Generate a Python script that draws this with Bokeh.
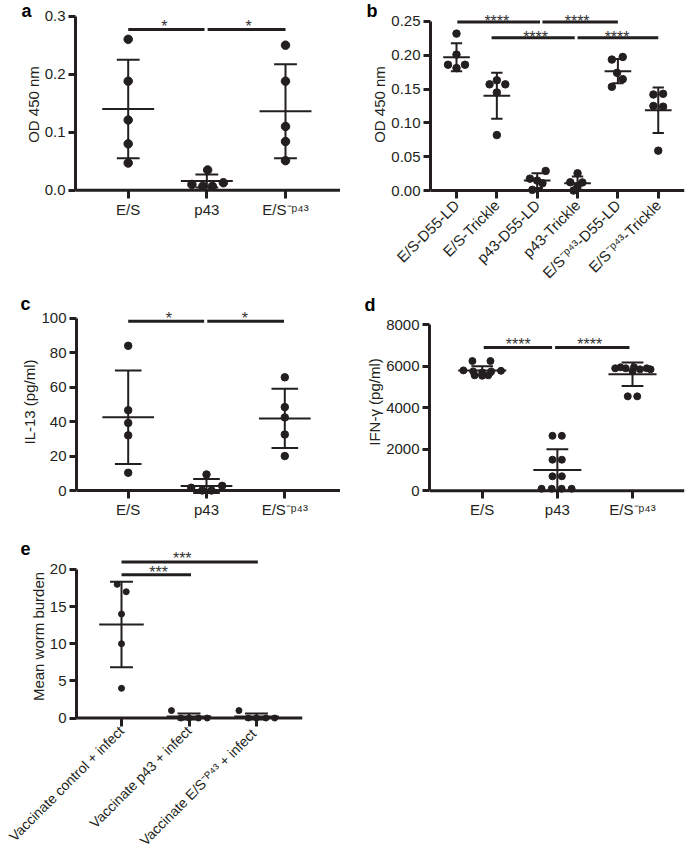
import math
from bokeh.plotting import figure
from bokeh.models import Span, FixedTicker, Range1d, PrintfTickFormatter
from bokeh.layouts import column, row
from bokeh.embed import file_html
from bokeh.resources import INLINE
from bokeh.core.properties import value

INK = "#231f20"
STAR = "#333333"
FONT = "Liberation Sans"

# ---------------- data ----------------
# Panel a  (OD 450 nm)
a_groups = ["E/S", "p43", "E/S⁻ᵖ⁴³"]
a_es = [0.260, 0.188, 0.121, 0.080, 0.047]
a_p43 = [0.035, 0.010, 0.007, 0.007, 0.013]
a_esp = [0.250, 0.188, 0.110, 0.084, 0.051]
a_jit_es = [0, 0, 0, 0, 0]
a_jit_p43 = [0.01, -0.19, -0.05, 0.07, 0.21]
a_jit_esp = [0, 0, 0, 0, 0]
a_mean = [0.140, 0.016, 0.136]
a_sd = [0.085, 0.011, 0.081]
a_yticks = [0.0, 0.1, 0.2, 0.3]
a_sig_from = [0.0, 1.01]
a_sig_to = [0.97, 2.0]
a_sig_y = [0.277, 0.277]
a_stars = ["*", "*"]
a_star_x = [0.46, 1.53]
a_star_y = [0.291, 0.291]

# Panel b  (OD 450 nm)
b_groups = ["E/S-D55-LD", "E/S-Trickle", "p43-D55-LD", "p43-Trickle",
            "E/S⁻ᵖ⁴³-D55-LD", "E/S⁻ᵖ⁴³-Trickle"]
b_es_ld = [0.232, 0.201, 0.186, 0.186, 0.181]
b_es_tr = [0.163, 0.157, 0.157, 0.145, 0.082]
b_p43_ld = [0.029, 0.0176, 0.0147, 0.0108, 0.001]
b_p43_tr = [0.0255, 0.0122, 0.012, 0.0064, 0.0]
b_esp_ld = [0.1975, 0.1936, 0.174, 0.1647, 0.1534]
b_esp_tr = [0.143, 0.142, 0.125, 0.124, 0.059]
b_jit_es_ld = [0, 0, -0.21, 0.21, 0]
b_jit_es_tr = [0, -0.18, 0.21, 0, 0]
b_jit_p43_ld = [0.21, -0.18, 0.0, 0.13, -0.12]
b_jit_p43_tr = [0, -0.18, 0.12, 0, -0.1]
b_jit_esp_ld = [0.12, -0.15, -0.02, 0.12, -0.15]
b_jit_esp_tr = [0.12, -0.12, -0.12, 0.12, 0]
b_mean = [0.197, 0.140, 0.0147, 0.0108, 0.1765, 0.1187]
b_sd = [0.0206, 0.034, 0.0108, 0.0098, 0.018, 0.0338]
b_yticks = [0.0, 0.05, 0.10, 0.15, 0.20, 0.25]
b_sig_from = [0.02, 2.13, 0.87, 3.0]
b_sig_to = [2.07, 4.0, 2.93, 5.0]
b_sig_y = [0.249, 0.249, 0.226, 0.226]
b_stars = ["****", "****", "****", "****"]
b_star_x = [1.0, 2.99, 1.96, 3.98]
b_star_y = [0.258, 0.258, 0.234, 0.234]

# Panel c  (IL-13 pg/ml)
c_groups = ["E/S", "p43", "E/S⁻ᵖ⁴³"]
c_es = [84.0, 46.6, 39.2, 32.0, 10.3]
c_p43 = [9.3, 1.6, 2.7, 0.0, 0.0]
c_esp = [65.7, 48.4, 42.4, 32.5, 20.0]
c_jit_es = [0, 0, 0, 0, 0]
c_jit_p43 = [0, -0.195, 0.2, -0.055, 0.064]
c_jit_esp = [0, 0, 0, 0, 0]
c_mean = [42.5, 2.6, 41.8]
c_sd = [27.1, 4.1, 17.2]
c_yticks = [0, 20, 40, 60, 80, 100]
c_sig_from = [0.0, 1.01]
c_sig_to = [0.97, 1.99]
c_sig_y = [98.2, 98.2]
c_stars = ["*", "*"]
c_star_x = [0.52, 1.49]
c_star_y = [102.5, 102.5]

# Panel d  (IFN-gamma pg/ml)
d_groups = ["E/S", "p43", "E/S⁻ᵖ⁴³"]
d_es = [6250, 6250, 5800, 5780, 5750, 5750, 5700, 5560, 5540, 5560]
d_p43 = [2650, 2650, 1500, 1500, 700, 700, 100, 100, 100, 100]
d_esp = [5900, 5950, 5900, 5950, 5850, 5900, 5850, 5750, 4550, 4550]
d_jit_es = [-0.13, 0.11, -0.25, 0.25, -0.12, 0.12, 0.0, -0.1, 0.0, 0.08]
d_jit_p43 = [-0.065, 0.06, -0.065, 0.06, -0.065, 0.06, -0.21, -0.075, 0.057, 0.19]
d_jit_esp = [-0.23, -0.16, -0.09, 0.02, 0.1, 0.19, 0.24, 0.0, -0.063, 0.063]
d_mean = [5800, 1000, 5615]
d_sd = [205, 1000, 570]
d_yticks = [0, 2000, 4000, 6000, 8000]
d_sig_from = [0.02, 0.97]
d_sig_to = [0.93, 1.96]
d_sig_y = [6900, 6900]
d_stars = ["****", "****"]
d_star_x = [0.48, 1.43]
d_star_y = [7296, 7296]

# Panel e  (Mean worm burden)
e_groups = ["Vaccinate control + infect", "Vaccinate p43 + infect",
            "Vaccinate E/S⁻ᴾ⁴³ +  infect"]
e_ctrl = [18, 17, 14, 10, 4]
e_p43 = [1, 0, 0, 0, 0]
e_esp = [1, 0, 0, 0, 0]
e_jit_ctrl = [-0.064, 0.07, 0, 0, 0]
e_jit_p43 = [-0.26, -0.12, 0, 0.14, 0.27]
e_jit_esp = [-0.26, -0.12, 0, 0.14, 0.27]
e_mean = [12.6, 0.2, 0.2]
e_sd = [5.75, 0.4, 0.4]
e_yticks = [0, 5, 10, 15, 20]
e_sig_from = [0.0, 0.0]
e_sig_to = [1.03, 2.02]
e_sig_y = [19.3, 21.0]
e_stars = ["***", "***"]
e_star_x = [0.55, 0.9]
e_star_y = [20.2, 22.1]


# ---------------- helpers ----------------
def build(ox, oy, W, H, fl, fr, ft, fb, y0, k, c0, dx, yticks, yfmt, ylabel,
          groups, letter, letter_left, letter_standoff,
          rotated=False, tick_in=8, tick_out=0, xlabel_size="15px", xlabel_standoff=2):
    xr = Range1d((fl - c0) / dx, (fr - c0) / dx)
    yr = Range1d((y0 - fb) / k, (y0 - ft) / k)
    p = figure(width=W, height=H, x_range=xr, y_range=yr,
               output_backend="svg", toolbar_location=None,
               min_border_left=fl - ox, min_border_right=ox + W - fr,
               min_border_top=ft - oy, min_border_bottom=oy + H - fb)
    p.outline_line_color = None
    p.grid.visible = False
    p.background_fill_color = "white"
    p.border_fill_color = "white"
    p._mapping = (c0, dx, y0, k)

    # panel letter as the (left aligned) figure title
    p.title.text = letter
    p.title.align = "left"
    p.title.offset = letter_left - fl
    p.title.standoff = letter_standoff
    p.title.vertical_align = "bottom"
    p.title.text_font = FONT
    p.title.text_font_size = "18px"
    p.title.text_font_style = "bold"
    p.title.text_color = "black"

    ya = p.yaxis[0]
    ya.ticker = FixedTicker(ticks=yticks)
    ya.formatter = PrintfTickFormatter(format=yfmt)
    ya.bounds = (0, yticks[-1])
    ya.axis_line_width = 3
    ya.axis_line_color = INK
    ya.major_tick_line_width = 3
    ya.major_tick_line_color = INK
    ya.major_tick_out = 7
    ya.major_tick_in = 0
    ya.minor_tick_line_color = None
    ya.major_label_standoff = 3
    ya.major_label_text_font = FONT
    ya.major_label_text_font_size = "15px"
    ya.major_label_text_color = INK
    ya.axis_label = ylabel
    ya.axis_label_text_font = FONT
    ya.axis_label_text_font_size = "15px"
    ya.axis_label_text_font_style = "normal"
    ya.axis_label_text_color = INK
    ya.axis_label_standoff = 0

    xa = p.xaxis[0]
    xa.ticker = FixedTicker(ticks=list(range(len(groups))))
    xa.major_label_overrides = {i: g for i, g in enumerate(groups)}
    xa.axis_line_color = None
    xa.major_tick_line_width = 3
    xa.major_tick_line_color = INK
    xa.major_tick_in = tick_in
    xa.major_tick_out = tick_out
    xa.minor_tick_line_color = None
    xa.major_label_text_font = FONT
    xa.major_label_text_color = INK
    xa.major_label_text_font_size = xlabel_size
    xa.major_label_standoff = xlabel_standoff
    if rotated:
        xa.major_label_orientation = math.pi / 4
    p.add_layout(Span(location=0, dimension="width", line_color=INK, line_width=3))
    return p


def points(p, idx, vals, jit, size):
    p.scatter(x=[idx + j for j in jit], y=vals, size=size, color=INK, line_color=INK)


def summary(p, mean, sd, half_mean, half_cap, lw=2):
    xs = list(range(len(mean)))
    p.segment(x0=xs, y0=[m - s for m, s in zip(mean, sd)],
              x1=xs, y1=[m + s for m, s in zip(mean, sd)], line_color=INK, line_width=lw)
    p.segment(x0=[x - half_mean for x in xs], y0=mean, x1=[x + half_mean for x in xs], y1=mean,
              line_color=INK, line_width=lw)
    for sign in (1, -1):
        yy = [m + sign * s for m, s in zip(mean, sd)]
        p.segment(x0=[x - half_cap for x in xs], y0=yy, x1=[x + half_cap for x in xs], y1=yy,
                  line_color=INK, line_width=lw)


def sig(p, x0, x1, y, stars, sx, sy, size="16px"):
    c0, dx, y0, k = p._mapping
    p.segment(x0=x0, y0=y, x1=x1, y1=y, line_color=INK, line_width=3)
    p.text(x=sx, y=[v - 5.0 / k for v in sy], text=stars, text_font=value(FONT),
           text_font_size=size, text_color=STAR, text_align="center", text_baseline="middle")


# ---------------- panel a ----------------
pa = build(0, 0, 340, 290, 75, 340, 10, 200, 191.7, 586.7, 127.7, 78.65,
           a_yticks, "%.1f", "OD 450 nm", a_groups, "a", 21, -20)
summary(pa, a_mean, a_sd, 0.33, 0.145)
points(pa, 0, a_es, a_jit_es, 8.5)
points(pa, 1, a_p43, a_jit_p43, 8.5)
points(pa, 2, a_esp, a_jit_esp, 8.5)
sig(pa, a_sig_from, a_sig_to, a_sig_y, a_stars, a_star_x, a_star_y)

# ---------------- panel b ----------------
pb = build(340, 0, 345, 290, 430, 684, 10, 199, 191.0, 680.0, 456.0, 40.35,
           b_yticks, "%.2f", "OD 450 nm", b_groups, "b", 366, -20,
           rotated=True, xlabel_standoff=4)
summary(pb, b_mean, b_sd, 0.33, 0.14)
for i, (vals, jit) in enumerate([(b_es_ld, b_jit_es_ld), (b_es_tr, b_jit_es_tr),
                                 (b_p43_ld, b_jit_p43_ld), (b_p43_tr, b_jit_p43_tr),
                                 (b_esp_ld, b_jit_esp_ld), (b_esp_tr, b_jit_esp_tr)]):
    points(pb, i, vals, jit, 7.5)
sig(pb, b_sig_from, b_sig_to, b_sig_y, b_stars, b_star_x, b_star_y)

# ---------------- panel c ----------------
pc = build(0, 290, 340, 245, 76, 340, 305, 498, 490.0, 1.723, 127.7, 78.3,
           c_yticks, "%d", "IL-13 (pg/ml)", c_groups, "c", 20, -16)
summary(pc, c_mean, c_sd, 0.33, 0.17)
points(pc, 0, c_es, c_jit_es, 7.5)
points(pc, 1, c_p43, c_jit_p43, 7.5)
points(pc, 2, c_esp, c_jit_esp, 7.5)
sig(pc, c_sig_from, c_sig_to, c_sig_y, c_stars, c_star_x, c_star_y)

# ---------------- panel d ----------------
pd_ = build(340, 290, 345, 245, 429, 684, 305, 499, 491.3, 0.020875, 481.7, 75.15,
            d_yticks, "%d", "IFN-γ (pg/ml)", d_groups, "d", 364, -18)
summary(pd_, d_mean, d_sd, 0.32, 0.145)
points(pd_, 0, d_es, d_jit_es, 7)
points(pd_, 1, d_p43, d_jit_p43, 7)
points(pd_, 2, d_esp, d_jit_esp, 7)
sig(pd_, d_sig_from, d_sig_to, d_sig_y, d_stars, d_star_x, d_star_y)

# ---------------- panel e ----------------
pe = build(0, 535, 340, 322, 76, 302, 549, 724, 718.5, 7.47, 121.0, 67.5,
           e_yticks, "%d", "Mean worm burden", e_groups, "e", 20, -10,
           rotated=True, tick_in=5, tick_out=3, xlabel_size="14px", xlabel_standoff=2)
summary(pe, e_mean, e_sd, 0.33, 0.17)
points(pe, 0, e_ctrl, e_jit_ctrl, 6)
points(pe, 1, e_p43, e_jit_p43, 6)
points(pe, 2, e_esp, e_jit_esp, 6)
sig(pe, e_sig_from, e_sig_to, e_sig_y, e_stars, e_star_x, e_star_y)

layout = column(row(pa, pb), row(pc, pd_), pe)
open("out.html", "w").write(file_html(layout, INLINE))
